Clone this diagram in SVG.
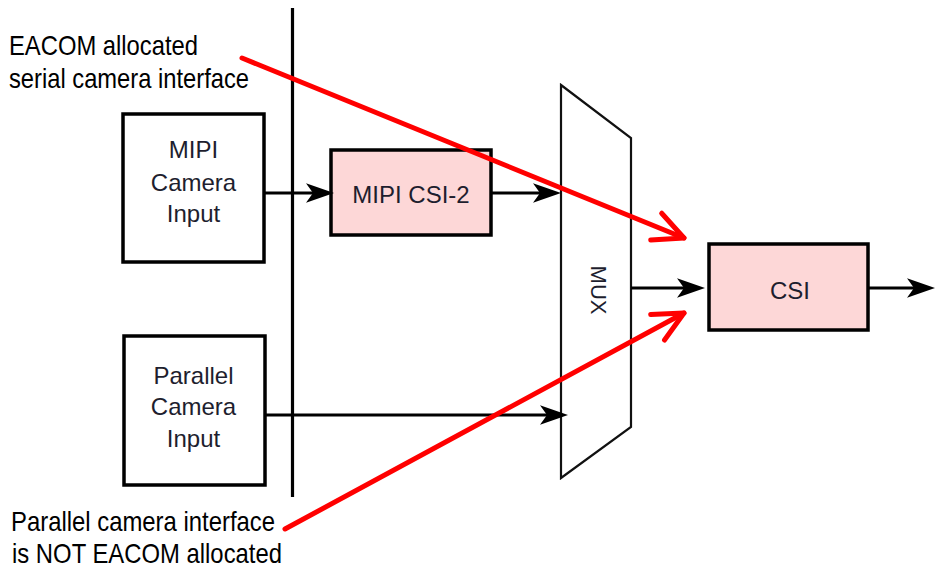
<svg xmlns="http://www.w3.org/2000/svg" width="935" height="568" viewBox="0 0 935 568">
<style>
.box{fill:#ffffff;stroke:#000;stroke-width:3.5}
.pink{fill:#fdd7d7;stroke:#000;stroke-width:3.5}
.lbl{font-family:"Liberation Sans",Arial,sans-serif;font-size:24px;fill:#1e1e2e;text-anchor:middle}
.note{font-family:"Liberation Sans",Arial,sans-serif;font-size:28px;fill:#000}
.wire{stroke:#000;stroke-width:3.2;fill:none}
.red{stroke:#ff0000;stroke-width:5;fill:none;stroke-linecap:round}
</style>
<defs>
<marker id="ah" markerUnits="userSpaceOnUse" orient="auto" markerWidth="40" markerHeight="30" viewBox="-10 -15 40 30" refX="0" refY="0" overflow="visible">
<path d="M21,0 L-7,-9.8 L0,0 L-7,9.8 Z" fill="#000"/>
</marker>
<marker id="rh" markerUnits="userSpaceOnUse" orient="auto" markerWidth="50" markerHeight="40" viewBox="-40 -20 50 40" refX="0" refY="0" overflow="visible">
<path d="M-30,-14.5 L0,0 L-30,14.5" fill="none" stroke="#ff0000" stroke-width="5" stroke-linecap="round" stroke-linejoin="round"/>
</marker>
</defs>

<g id="bus">
<line x1="292.5" y1="8" x2="292.5" y2="497" class="wire"/>
</g>

<g id="mipi-camera-input">
<rect x="123" y="114" width="141" height="148" class="box"/>
<text class="lbl" x="193.5" y="158">MIPI</text>
<text class="lbl" x="193.5" y="191">Camera</text>
<text class="lbl" x="193.5" y="222">Input</text>
</g>

<g id="parallel-camera-input">
<rect x="124" y="336" width="141" height="149" class="box"/>
<text class="lbl" x="193.5" y="384">Parallel</text>
<text class="lbl" x="193.5" y="415">Camera</text>
<text class="lbl" x="193.5" y="447">Input</text>
</g>

<g id="mipi-csi2">
<rect x="331" y="150" width="160" height="85" class="pink"/>
<text class="lbl" x="411" y="203">MIPI CSI-2</text>
</g>

<g id="mux">
<polygon points="561,85 631,138 631,427 561,478" fill="#fff" stroke="#111" stroke-width="2.2"/>
<text class="lbl" style="font-size:22px" transform="translate(591,290) rotate(90)">MUX</text>
</g>

<g id="csi">
<rect x="709" y="244" width="159" height="86" class="pink"/>
<text class="lbl" x="790" y="299">CSI</text>
</g>

<g id="connectors">
<line x1="264" y1="193" x2="313" y2="193" class="wire" marker-end="url(#ah)"/>
<line x1="491" y1="193" x2="540" y2="193" class="wire" marker-end="url(#ah)"/>
<line x1="265" y1="415" x2="547" y2="415" class="wire" marker-end="url(#ah)"/>
<line x1="631" y1="288" x2="684" y2="288" class="wire" marker-end="url(#ah)"/>
<line x1="868" y1="288" x2="914" y2="288" class="wire" marker-end="url(#ah)"/>
</g>

<g id="annotations">
<line x1="242" y1="58" x2="684" y2="238" class="red" marker-end="url(#rh)"/>
<line x1="285" y1="529" x2="684" y2="313" class="red" marker-end="url(#rh)"/>
<text class="note" x="9" y="55" textLength="189" lengthAdjust="spacingAndGlyphs">EACOM allocated</text>
<text class="note" x="9" y="88" textLength="240" lengthAdjust="spacingAndGlyphs">serial camera interface</text>
<text class="note" x="11" y="531" textLength="264" lengthAdjust="spacingAndGlyphs">Parallel camera interface</text>
<text class="note" x="12" y="563" textLength="270" lengthAdjust="spacingAndGlyphs">is NOT EACOM allocated</text>
</g>
</svg>
